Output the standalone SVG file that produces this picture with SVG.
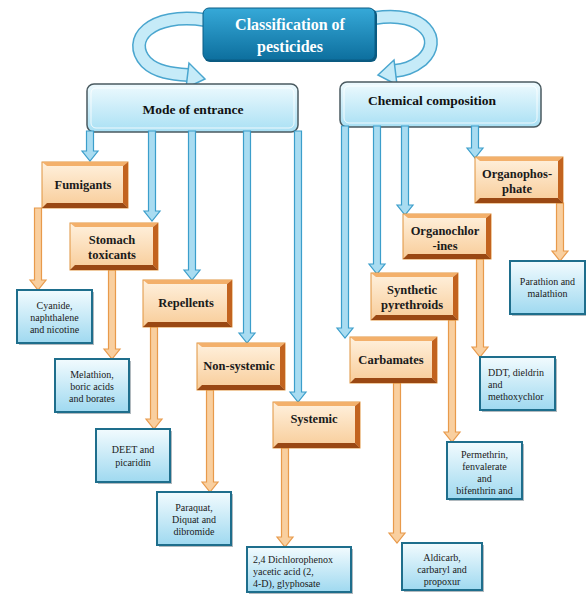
<svg xmlns="http://www.w3.org/2000/svg" width="586" height="594" viewBox="0 0 586 594" font-family="'Liberation Serif', 'DejaVu Serif', serif">
<defs>
<linearGradient id="tg" x1="0" y1="0" x2="0" y2="1"><stop offset="0" stop-color="#36a9d8"/><stop offset="1" stop-color="#0d6f9e"/></linearGradient>
<linearGradient id="mg" x1="0" y1="0" x2="0" y2="1"><stop offset="0" stop-color="#eefafe"/><stop offset="1" stop-color="#a9e0f4"/></linearGradient>
<linearGradient id="og" x1="0" y1="0" x2="0" y2="1"><stop offset="0" stop-color="#fff1de"/><stop offset="1" stop-color="#f8cc98"/></linearGradient>
<linearGradient id="bg" x1="0" y1="0" x2="0" y2="1"><stop offset="0" stop-color="#f2fbfe"/><stop offset="1" stop-color="#9fd9f0"/></linearGradient>
<style>
text{font-family:'Liberation Serif','DejaVu Serif',serif}
.ttl{font-weight:bold;font-size:16px;fill:#fff;text-anchor:middle}
.mt{font-weight:bold;font-size:13.5px;fill:#111;text-anchor:middle}
.ot{font-weight:bold;font-size:12.5px;fill:#1a1a1a;text-anchor:middle}
.lt{font-size:10px;fill:#1a1a1a;text-anchor:middle}
.ltl{font-size:10px;fill:#1a1a1a}
.ob{fill:url(#og);stroke:#e0943f;stroke-width:1}
.br{fill:#c2631f}
.bb{fill:#9a4813}
.btop{fill:#f3b06b}
.lb{fill:url(#bg);stroke:#1e6e8c;stroke-width:2}
.sh{fill:#7d8b93;opacity:0.6}
.ba{fill:#a9dcf1;stroke:#3b9ecb;stroke-width:1.2}
.oa{fill:#f9cf9f;stroke:#e89a4b;stroke-width:1.2}
.cb{fill:none;stroke:#4aa6cf;stroke-width:14}
.ci{fill:none;stroke:#c6ebf8;stroke-width:11}
.ch{fill:#c6ebf8;stroke:#4aa6cf;stroke-width:1.5}
</style>
</defs>
<rect width="586" height="594" fill="#fff"/>

<g id="curved-arrows">
<path class="cb" d="M205 20 C150 12 126 40 146 62 C156 72 172 74 188 75"/>
<path class="ci" d="M205 20 C150 12 126 40 146 62 C156 72 172 74 188 75"/>
<polygon class="ch" points="205,79 189,63 186,88"/>
<path class="cb" d="M375 18 C424 10 444 40 422 60 C412 68 404 70 394 71"/>
<path class="ci" d="M375 18 C424 10 444 40 422 60 C412 68 404 70 394 71"/>
<polygon class="ch" points="378,75 394,60 397,85"/>
</g>

<g id="classification">
<rect x="204" y="9" width="173" height="53" rx="6" fill="#0a5a80"/>
<rect x="203" y="8" width="172" height="52" rx="6" fill="url(#tg)" stroke="#0b5d85" stroke-width="1"/>
<text class="ttl" x="290" y="30">Classification of</text>
<text class="ttl" x="290" y="52">pesticides</text>
</g>

<g id="mode">
<rect x="87" y="84" width="211" height="48" rx="7" fill="url(#mg)" stroke="#4a5a60" stroke-width="1.5"/>
<rect x="91" y="88" width="203" height="40" rx="5" fill="none" stroke="#ffffff" stroke-width="1" opacity="0.8"/>
<text class="mt" x="193" y="114">Mode of entrance</text>
</g>

<g id="chemical">
<rect x="340" y="82" width="201" height="45" rx="7" fill="url(#mg)" stroke="#4a5a60" stroke-width="1.5"/>
<rect x="344" y="86" width="193" height="37" rx="5" fill="none" stroke="#ffffff" stroke-width="1" opacity="0.8"/>
<text class="mt" x="432" y="105">Chemical composition</text>
</g>

<g id="connectors">
<path class="ba" d="M86.5 131 V151 H82 L90 161 L98 151 H93.5 V131 Z"/>
<path class="ba" d="M148.5 131 V211 H144 L152 221 L160 211 H155.5 V131 Z"/>
<path class="ba" d="M188.5 131 V270 H184 L192 280 L200 270 H195.5 V131 Z"/>
<path class="ba" d="M243.5 131 V333 H239 L247 343 L255 333 H250.5 V131 Z"/>
<path class="ba" d="M294.5 131 V392 H290 L298 402 L306 392 H301.5 V131 Z"/>
<path class="ba" d="M341.5 126 V328 H337 L345 338 L353 328 H348.5 V126 Z"/>
<path class="ba" d="M373.5 126 V264 H369 L377 274 L385 264 H380.5 V126 Z"/>
<path class="ba" d="M401.5 126 V205 H397 L405 215 L413 205 H408.5 V126 Z"/>
<path class="ba" d="M471.5 126 V148 H467 L475 158 L483 148 H478.5 V126 Z"/>
<path class="oa" d="M34.5 208 V280 H30 L38 290 L46 280 H41.5 V208 Z"/>
<path class="oa" d="M108.5 270 V349 H104 L112 359 L120 349 H115.5 V270 Z"/>
<path class="oa" d="M150.5 327 V419 H146 L154 429 L162 419 H157.5 V327 Z"/>
<path class="oa" d="M206.5 390 V482 H202 L210 492 L218 482 H213.5 V390 Z"/>
<path class="oa" d="M281.5 448 V537 H277 L285 547 L293 537 H288.5 V448 Z"/>
<path class="oa" d="M556.5 203 V251 H552 L560 261 L568 251 H563.5 V203 Z"/>
<path class="oa" d="M476.5 259 V347 H472 L480 357 L488 347 H483.5 V259 Z"/>
<path class="oa" d="M448.5 320 V432 H444 L452 442 L460 432 H455.5 V320 Z"/>
<path class="oa" d="M393.5 383 V533 H389 L397 543 L405 533 H400.5 V383 Z"/>
</g>

<g id="fumigants">
<rect class="ob" x="42" y="162" width="86" height="46"/>
<polygon class="btop" points="42,162 128,162 123,166 47,166"/>
<polygon class="br" points="123,166 128,162 128,208 123,203"/>
<polygon class="bb" points="42,208 47,203 123,203 128,208"/>
<text class="ot" x="83" y="189">Fumigants</text>
</g>

<g id="stomach">
<rect class="ob" x="70" y="223" width="88" height="47"/>
<polygon class="btop" points="70,223 158,223 153,227 75,227"/>
<polygon class="br" points="153,227 158,223 158,270 153,265"/>
<polygon class="bb" points="70,270 75,265 153,265 158,270"/>
<text class="ot" x="112" y="244">Stomach</text>
<text class="ot" x="112" y="259">toxicants</text>
</g>

<g id="repellents">
<rect class="ob" x="143" y="280" width="89" height="47"/>
<polygon class="btop" points="143,280 232,280 227,284 148,284"/>
<polygon class="br" points="227,284 232,280 232,327 227,322"/>
<polygon class="bb" points="143,327 148,322 227,322 232,327"/>
<text class="ot" x="186" y="307">Repellents</text>
</g>

<g id="nonsystemic">
<rect class="ob" x="197" y="343" width="88" height="47"/>
<polygon class="btop" points="197,343 285,343 280,347 202,347"/>
<polygon class="br" points="280,347 285,343 285,390 280,385"/>
<polygon class="bb" points="197,390 202,385 280,385 285,390"/>
<text class="ot" x="239" y="370">Non-systemic</text>
</g>

<g id="systemic">
<rect class="ob" x="273" y="402" width="87" height="46"/>
<polygon class="btop" points="273,402 360,402 355,406 278,406"/>
<polygon class="br" points="355,406 360,402 360,448 355,443"/>
<polygon class="bb" points="273,448 278,443 355,443 360,448"/>
<text class="ot" x="314" y="423">Systemic</text>
</g>

<g id="organophosphate">
<rect class="ob" x="475" y="157" width="88" height="46"/>
<polygon class="btop" points="475,157 563,157 558,161 480,161"/>
<polygon class="br" points="558,161 563,157 563,203 558,198"/>
<polygon class="bb" points="475,203 480,198 558,198 563,203"/>
<text class="ot" x="517" y="178">Organophos-</text>
<text class="ot" x="517" y="193">phate</text>
</g>

<g id="organochlorines">
<rect class="ob" x="403" y="214" width="88" height="45"/>
<polygon class="btop" points="403,214 491,214 486,218 408,218"/>
<polygon class="br" points="486,218 491,214 491,259 486,254"/>
<polygon class="bb" points="403,259 408,254 486,254 491,259"/>
<text class="ot" x="445" y="235">Organochlor</text>
<text class="ot" x="445" y="250">-ines</text>
</g>

<g id="synthetic">
<rect class="ob" x="371" y="273" width="87" height="47"/>
<polygon class="btop" points="371,273 458,273 453,277 376,277"/>
<polygon class="br" points="453,277 458,273 458,320 453,315"/>
<polygon class="bb" points="371,320 376,315 453,315 458,320"/>
<text class="ot" x="412" y="294">Synthetic</text>
<text class="ot" x="412" y="309">pyrethroids</text>
</g>

<g id="carbamates">
<rect class="ob" x="350" y="337" width="87" height="46"/>
<polygon class="btop" points="350,337 437,337 432,341 355,341"/>
<polygon class="br" points="432,341 437,337 437,383 432,378"/>
<polygon class="bb" points="350,383 355,378 432,378 437,383"/>
<text class="ot" x="391" y="364">Carbamates</text>
</g>

<g id="cyanide">
<rect class="sh" x="19" y="292" width="75" height="53"/>
<rect class="lb" x="17" y="290" width="75" height="53"/>
<text class="lt" x="54.5" y="309">Cyanide,</text>
<text class="lt" x="54.5" y="321">naphthalene</text>
<text class="lt" x="54.5" y="333">and nicotine</text>
</g>

<g id="melathion">
<rect class="sh" x="57" y="361" width="74" height="53"/>
<rect class="lb" x="55" y="359" width="74" height="53"/>
<text class="lt" x="92" y="378">Melathion,</text>
<text class="lt" x="92" y="390">boric acids</text>
<text class="lt" x="92" y="402">and borates</text>
</g>

<g id="deet">
<rect class="sh" x="98" y="431" width="74" height="53"/>
<rect class="lb" x="96" y="429" width="74" height="53"/>
<text class="lt" x="133" y="453" font-size="11">DEET and</text>
<text class="lt" x="133" y="466" font-size="11">picaridin</text>
</g>

<g id="paraquat">
<rect class="sh" x="159" y="494" width="74" height="53"/>
<rect class="lb" x="157" y="492" width="74" height="53"/>
<text class="lt" x="194" y="511">Paraquat,</text>
<text class="lt" x="194" y="523">Diquat and</text>
<text class="lt" x="194" y="535">dibromide</text>
</g>

<g id="glyphosate">
<rect class="sh" x="249" y="549" width="104" height="45"/>
<rect class="lb" x="247" y="547" width="104" height="45"/>
<text class="ltl" x="253" y="563">2,4 Dichlorophenox</text>
<text class="ltl" x="253" y="575">yacetic acid (2,</text>
<text class="ltl" x="253" y="587">4-D), glyphosate</text>
</g>

<g id="parathion">
<rect class="sh" x="512" y="263" width="75" height="53"/>
<rect class="lb" x="510" y="261" width="75" height="53"/>
<text class="lt" x="547.5" y="285">Parathion and</text>
<text class="lt" x="547.5" y="297">malathion</text>
</g>

<g id="ddt">
<rect class="sh" x="482" y="359" width="75" height="53"/>
<rect class="lb" x="480" y="357" width="75" height="53"/>
<text class="ltl" x="488" y="376">DDT, dieldrin</text>
<text class="ltl" x="488" y="388">and</text>
<text class="ltl" x="488" y="400">methoxychlor</text>
</g>

<g id="permethrin">
<rect class="sh" x="449" y="444" width="75" height="57"/>
<rect class="lb" x="447" y="442" width="75" height="57"/>
<text class="lt" x="484.5" y="458">Permethrin,</text>
<text class="lt" x="484.5" y="470">fenvalerate</text>
<text class="lt" x="484.5" y="482">and</text>
<text class="lt" x="484.5" y="494">bifenthrin and</text>
</g>

<g id="aldicarb">
<rect class="sh" x="404" y="545" width="80" height="47"/>
<rect class="lb" x="402" y="543" width="80" height="47"/>
<text class="lt" x="442" y="561">Aldicarb,</text>
<text class="lt" x="442" y="573">carbaryl and</text>
<text class="lt" x="442" y="585">propoxur</text>
</g>
</svg>
